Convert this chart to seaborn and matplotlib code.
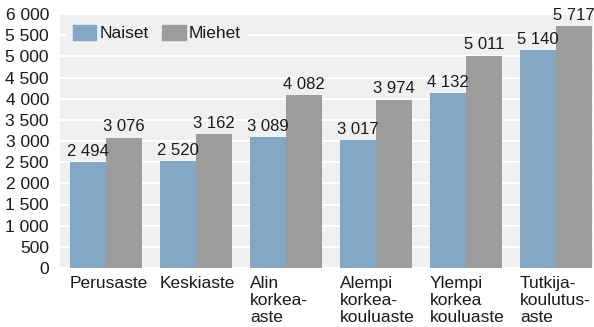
import numpy as np
import pandas as pd
import matplotlib
matplotlib.use("Agg")
import matplotlib.pyplot as plt
import seaborn as sns

categories = ["Perusaste", "Keskiaste", "Alin\nkorkea-\naste", "Alempi\nkorkea-\nkouluaste",
              "Ylempi\nkorkea\nkouluaste", "Tutkija-\nkoulutus-\naste"]
naiset = [2494, 2520, 3089, 3017, 4132, 5140]
miehet = [3076, 3162, 4082, 3974, 5011, 5717]
series = ["Naiset", "Miehet"]
colors = ["#83a7c4", "#9c9c9b"]
yticks = list(range(0, 6001, 500))

df = pd.DataFrame({
    "luokka": categories * 2,
    "sarja": [series[0]] * len(categories) + [series[1]] * len(categories),
    "arvo": naiset + miehet,
})

sns.set_theme(style="white")
plt.rcParams["font.family"] = ["Liberation Sans", "DejaVu Sans"]
fs = 12
text_color = "#1a1a1a"


def fmt(v):
    return f"{v:,.0f}".replace(",", " ")


fig = plt.figure(figsize=(5.94, 3.27), dpi=100)
ax = fig.add_axes([60 / 594, 59 / 327, 533 / 594, 254 / 327])
ax.set_facecolor("#f0f0f0")

sns.barplot(data=df, x="luokka", y="arvo", hue="sarja", palette=colors,
            width=0.8, gap=0, saturation=1, linewidth=0, ax=ax, zorder=3, legend=False)

ax.set_ylim(0, 6000)
ax.set_xlim(-0.51, 5.41)
ax.set_yticks(yticks)
ax.set_yticklabels([fmt(v) for v in yticks], color=text_color, fontsize=fs + 0.5)
ax.yaxis.grid(True, color="white", linewidth=1.5, zorder=0)
ax.set_axisbelow(True)

pos = np.arange(len(categories))
ax.set_xticks(pos - 0.4)
ax.set_xticklabels(categories, ha="left", va="top", color=text_color, fontsize=fs + 0.5,
                   linespacing=1.15)
ax.tick_params(axis="x", length=0, pad=6)
ax.tick_params(axis="y", length=0, pad=8)
ax.set_xlabel("")
ax.set_ylabel("")
for s in ax.spines.values():
    s.set_visible(False)

for cont in ax.containers:
    ax.bar_label(cont, labels=[fmt(v) for v in cont.datavalues],
                 padding=2.5, fontsize=fs, color=text_color)

handles = [plt.Rectangle((0, 0), 1, 1, color=c) for c in colors]
leg = ax.legend(handles, series, loc="upper left", bbox_to_anchor=(-0.005, 1.02),
                ncol=2, frameon=True, fancybox=False, edgecolor="none",
                facecolor="#f0f0f0", framealpha=1, fontsize=fs + 0.5,
                handlelength=1.35, handleheight=1.0, handletextpad=0.2,
                columnspacing=0.75, borderpad=0.4)
for t in leg.get_texts():
    t.set_color(text_color)

fig.savefig("out.png", dpi=100)
